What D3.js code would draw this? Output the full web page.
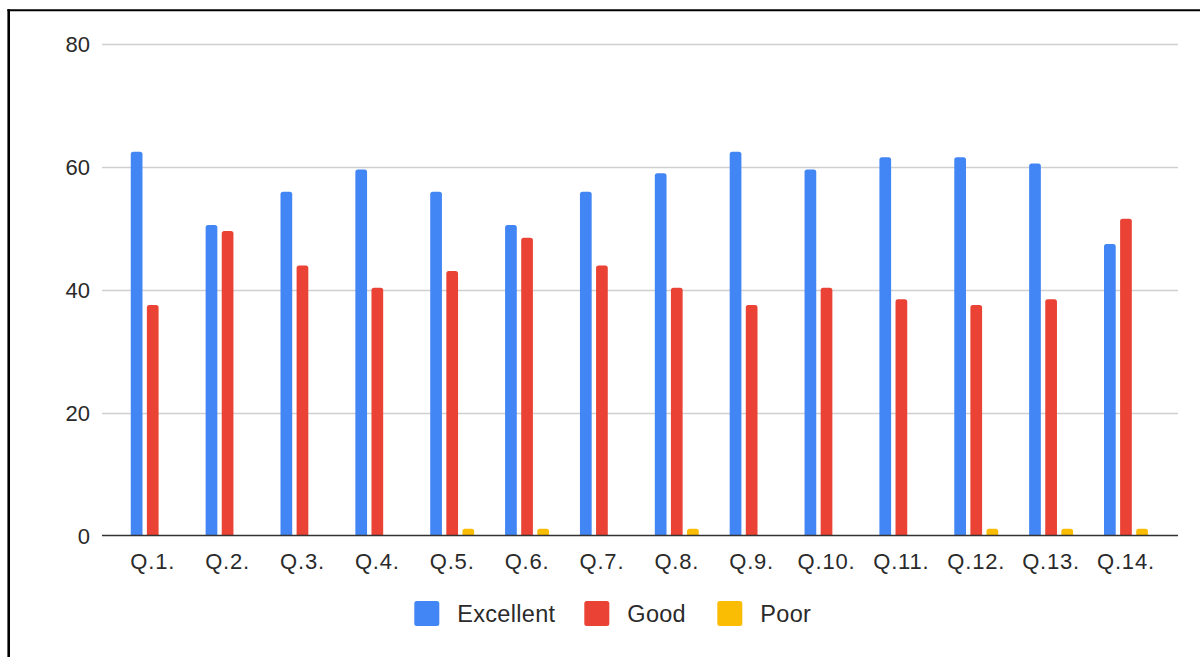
<!DOCTYPE html>
<html>
<head>
<meta charset="utf-8">
<script src="https://cdn.jsdelivr.net/npm/d3@7"></script>
<style>
  body { margin: 0; background: #fff; }
  svg { display: block; }
  text { font-family: "Liberation Sans", Arial, sans-serif; fill: #2a2a2a; }
</style>
</head>
<body>
<svg id="svg0"></svg>
<script>
var categories = ["Q.1.", "Q.2.", "Q.3.", "Q.4.", "Q.5.", "Q.6.", "Q.7.", "Q.8.", "Q.9.", "Q.10.", "Q.11.", "Q.12.", "Q.13.", "Q.14."];
var seriesNames = ["Excellent", "Good", "Poor"];
var excellent = [62.4, 50.5, 55.9, 59.5, 55.9, 50.5, 55.9, 58.9, 62.4, 59.5, 61.5, 61.5, 60.5, 47.4];
var good = [37.5, 49.5, 43.9, 40.3, 43.0, 48.4, 43.9, 40.3, 37.5, 40.3, 38.4, 37.5, 38.4, 51.5];
var poor = [0, 0, 0, 0, 1.1, 1.1, 0, 1.1, 0, 0, 0, 1.1, 1.1, 1.1];
var yTicks = [0, 20, 40, 60, 80];
var colors = ["#4285f4", "#ea4335", "#fbbc04"];

function topRounded(x, y, w, h, r) {
  if (h <= 0) return "";
  r = Math.min(r, h, w / 2);
  return `M${x},${y + h}V${y + r}Q${x},${y} ${x + r},${y}H${x + w - r}Q${x + w},${y} ${x + w},${y + r}V${y + h}Z`;
}

function generateChart(id) {
  var svgWidth = 1200;
  var svgHeight = 657;
  var gridLeft = 102, gridRight = 1178;

  var svg = d3.select(id)
    .attr("width", svgWidth)
    .attr("height", svgHeight);

  var values = [excellent, good, poor];
  var rows = categories.map((c, i) => ({ cat: c, vals: seriesNames.map((s, j) => ({ key: s, idx: j, v: values[j][i] })) }));

  var y = d3.scaleLinear()
    .domain([0, 80])
    .range([535.5, 43.5]);

  var x0 = d3.scaleBand()
    .domain(categories)
    .range([115.3, 1163.4])
    .padding(0);

  var x1 = d3.scaleBand()
    .domain(seriesNames)
    .range([0, x0.bandwidth()])
    .paddingInner(0.273)
    .paddingOuter(0.96);

  // gridlines
  svg.append("g")
    .selectAll("line")
    .data(yTicks.filter(t => t > 0))
    .enter()
    .append("line")
    .attr("x1", gridLeft)
    .attr("x2", gridRight)
    .attr("y1", d => Math.round(y(d)) + 0.5)
    .attr("y2", d => Math.round(y(d)) + 0.5)
    .attr("stroke", "#d0d0d0")
    .attr("stroke-width", 1.3);

  // y labels
  svg.append("g")
    .selectAll("text")
    .data(yTicks)
    .enter()
    .append("text")
    .attr("x", 90)
    .attr("y", d => y(d) + 8)
    .attr("text-anchor", "end")
    .attr("font-size", 22)
    .text(d => d);

  // bars
  var groups = svg.append("g")
    .selectAll("g")
    .data(rows)
    .enter()
    .append("g")
    .attr("transform", d => `translate(${x0(d.cat)},0)`);

  groups.selectAll("path")
    .data(d => d.vals)
    .enter()
    .append("path")
    .attr("fill", d => colors[d.idx])
    .attr("d", d => topRounded(x1(d.key), y(d.v), x1.bandwidth(), y(0) - y(d.v), 2.5));

  // baseline
  svg.append("line")
    .attr("x1", gridLeft)
    .attr("x2", gridRight)
    .attr("y1", y(0))
    .attr("y2", y(0))
    .attr("stroke", "#333")
    .attr("stroke-width", 1.6);

  // x labels
  svg.append("g")
    .selectAll("text")
    .data(categories)
    .enter()
    .append("text")
    .attr("x", d => x0(d) + x0.bandwidth() / 2)
    .attr("y", 569)
    .attr("text-anchor", "middle")
    .attr("font-size", 22)
    .attr("letter-spacing", 0.8)
    .text(d => d);

  // legend
  var legendX = [414.3, 584.3, 717.3];
  var legend = svg.append("g")
    .selectAll("g")
    .data(seriesNames)
    .enter()
    .append("g")
    .attr("transform", (d, i) => `translate(${legendX[i]},601)`);

  legend.append("rect")
    .attr("width", 25)
    .attr("height", 25)
    .attr("rx", 2.5)
    .attr("fill", (d, i) => colors[i]);

  legend.append("text")
    .attr("x", 43)
    .attr("y", 21)
    .attr("font-size", 23.5)
    .attr("letter-spacing", 0.3)
    .text(d => d);

  // frame
  svg.append("line")
    .attr("x1", 8.7).attr("x2", 8.7)
    .attr("y1", 9.3).attr("y2", svgHeight)
    .attr("stroke", "#000")
    .attr("stroke-width", 2.6);

  svg.append("line")
    .attr("x1", 7.4).attr("x2", svgWidth)
    .attr("y1", 10.3).attr("y2", 10.3)
    .attr("stroke", "#000")
    .attr("stroke-width", 2);
}

window.addEventListener('load', function () {
  generateChart('#svg0');
});
</script>
</body>
</html>
